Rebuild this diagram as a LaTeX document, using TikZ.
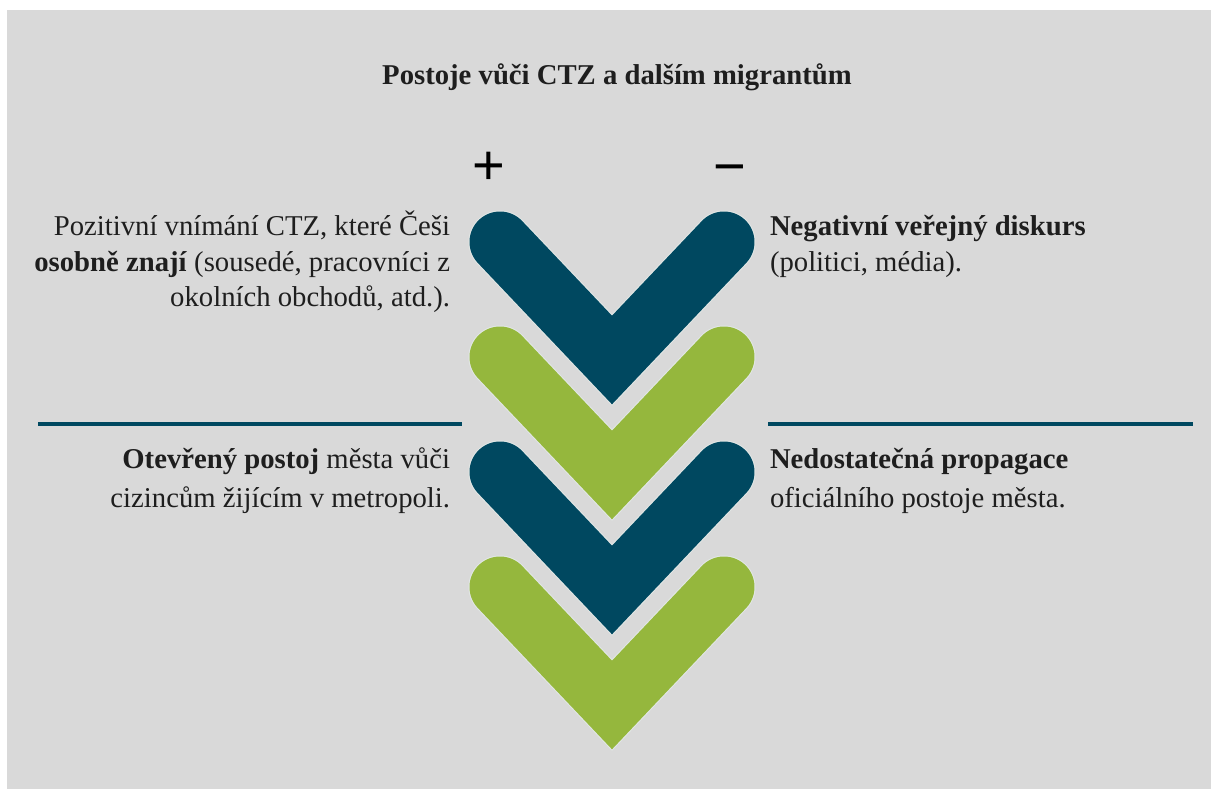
\documentclass[tikz,border=0pt]{standalone}
\usepackage{fontspec}
\IfFontExistsTF{LiberationSerif-Regular.ttf}
  {\setmainfont{LiberationSerif-Regular.ttf}[BoldFont=LiberationSerif-Bold.ttf,ItalicFont=LiberationSerif-Italic.ttf,BoldItalicFont=LiberationSerif-BoldItalic.ttf]}
  {\setmainfont{Liberation Serif}}
\newfontfamily\signfont{Liberation Sans}
\definecolor{bgrey}{RGB}{217,217,217}
\definecolor{navy}{RGB}{0,72,96}
\definecolor{lime}{RGB}{149,183,61}
\definecolor{txt}{RGB}{30,30,30}
\definecolor{halo}{RGB}{226,232,230}
\begin{document}
\begin{tikzpicture}[x=1pt,y=-1pt,
  chev/.style={line width=61pt, line cap=round, line join=miter},
  chevhalo/.style={halo, line width=63pt, line cap=round, line join=miter},
  lbl/.style={inner sep=0pt, outer sep=0pt, text=txt, font=\rmfamily\fontsize{28.7}{34}\selectfont},
  ttl/.style={lbl, font=\rmfamily\fontsize{28.7}{34}\selectfont\bfseries},
  sign/.style={inner sep=0pt, outer sep=0pt, text=black, font=\signfont\fontsize{56}{60}\selectfont},
  rule/.style={navy, line width=4pt}]
\useasboundingbox (0,0) rectangle (1211,789);
\fill[bgrey] (7,10) rectangle (1211,789);

% chevrons
\foreach \k/\c in {0/navy,1/lime,2/navy,3/lime}{
  \draw[chevhalo] ({500},{242+115*\k}) -- ({612},{360+115*\k}) -- ({724},{242+115*\k});
  \draw[chev, draw=\c] ({500},{242+115*\k}) -- ({612},{360+115*\k}) -- ({724},{242+115*\k});
}

% rules
\draw[rule] (38,424) -- (462,424);
\draw[rule] (768,424) -- (1193,424);

% title and signs
\node[ttl, anchor=base] (title) at (617,85) {Postoje vůči CTZ a dalším migrantům};
\node[sign] (plus) at (489,168) {+};
\node[sign] (minus) at (730,175) {−};

% top left
\node[lbl, anchor=base east] (tl1) at (450,235.5) {Pozitivní vnímání CTZ, které Češi};
\node[lbl, anchor=base east] (tl2) at (450,271) {\textbf{osobně znají} (sousedé, pracovníci z};
\node[lbl, anchor=base east] (tl3) at (450,306.5) {okolních obchodů, atd.).};
% top right
\node[lbl, anchor=base west] (tr1) at (770,235.5) {\textbf{Negativní veřejný diskurs}};
\node[lbl, anchor=base west] (tr2) at (770,271) {(politici, média).};
% bottom left
\node[lbl, anchor=base east] (bl1) at (450,468) {\textbf{Otevřený postoj} města vůči};
\node[lbl, anchor=base east] (bl2) at (450,507) {cizincům žijícím v metropoli.};
% bottom right
\node[lbl, anchor=base west] (br1) at (770,468) {\textbf{Nedostatečná propagace}};
\node[lbl, anchor=base west] (br2) at (770,507) {oficiálního postoje města.};
\end{tikzpicture}
\end{document}
